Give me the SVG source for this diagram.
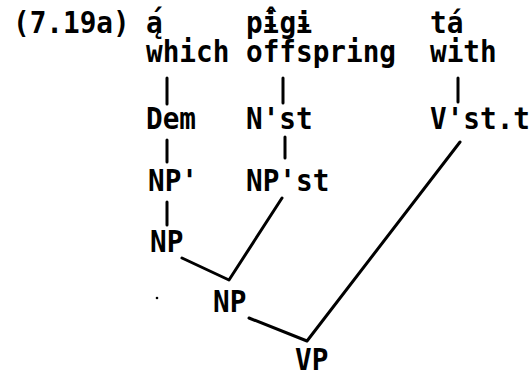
<svg xmlns="http://www.w3.org/2000/svg" width="530" height="377" viewBox="0 0 530 377">
<style>
text{font-family:"DejaVu Sans Mono","Liberation Mono",monospace;font-weight:bold;font-size:27.7px;fill:#000}
.c line,.c polyline{stroke:#000;stroke-width:3;stroke-linecap:round;stroke-linejoin:round;fill:none}
</style>
<rect width="530" height="377" fill="#fff"/>
<text id="label" transform="translate(13,33) scale(1,1.08)">(7.19a)</text>
<g id="n-a"><text transform="translate(146,33) scale(1,1.08)">ą<tspan x="2" dy="-2">´</tspan></text></g>
<g id="n-pigi"><text transform="translate(246,33) scale(1,1.08)">pɨ<tspan x="16.7" dy="-2">ˆ</tspan><tspan x="33.4" dy="2">gɨ</tspan></text></g>
<g id="n-ta"><text transform="translate(430,33) scale(1,1.08)">tá</text></g>
<g id="n-which"><text transform="translate(146,62) scale(1,1.08)">which</text></g>
<g id="n-offspring"><text transform="translate(246,62) scale(1,1.08)">offspring</text></g>
<g id="n-with"><text transform="translate(430,62) scale(1,1.08)">with</text></g>
<g id="n-dem"><text transform="translate(146,129) scale(1,1.08)">Dem</text></g>
<g id="n-nst"><text transform="translate(246,129) scale(1,1.08)">N'st</text></g>
<g id="n-vstt"><text transform="translate(430,129) scale(1,1.08)">V'st.t</text></g>
<g id="n-npp"><text transform="translate(148,191) scale(1,1.08)">NP'</text></g>
<g id="n-npst"><text transform="translate(246,191) scale(1,1.08)">NP'st</text></g>
<g id="n-np1"><text transform="translate(150,252) scale(1,1.08)">NP</text></g>
<g id="n-np2"><text transform="translate(213,312) scale(1,1.08)">NP</text></g>
<g id="n-vp"><text transform="translate(295,370) scale(1,1.08)">VP</text></g>
<g id="connectors" class="c">
<line x1="167" y1="78" x2="167" y2="104"/>
<line x1="283" y1="78" x2="283" y2="103"/>
<line x1="458" y1="78" x2="458" y2="102"/>
<line x1="167" y1="140" x2="167" y2="162"/>
<line x1="285" y1="137" x2="285" y2="158"/>
<line x1="167" y1="202" x2="167" y2="225"/>
<polyline points="182,258 229,280 282,198"/>
<polyline points="249,318 307,341 460,142"/>
</g>
<circle cx="157" cy="298" r="1.3" fill="#000"/>
</svg>
